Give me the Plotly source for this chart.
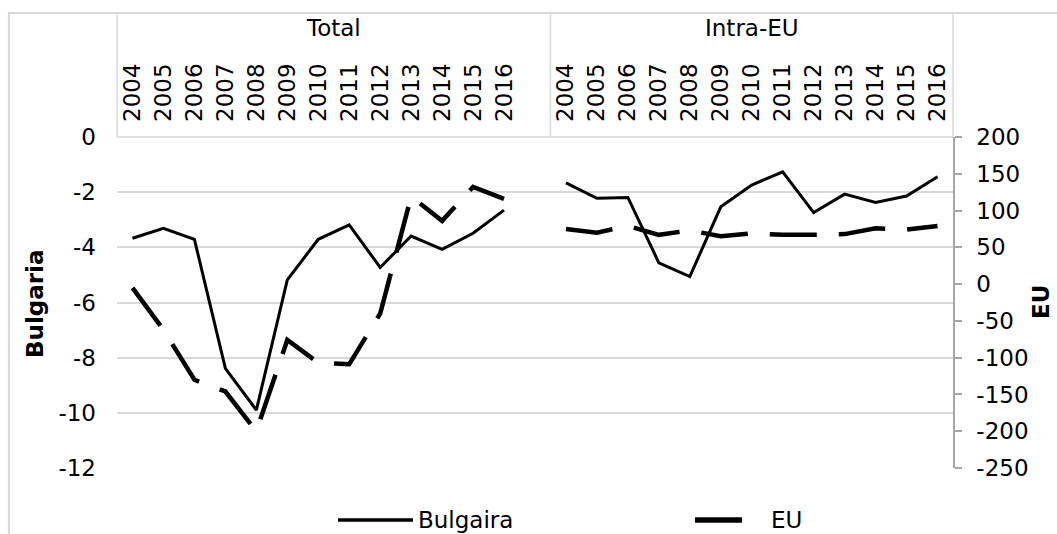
import plotly.graph_objects as go

# ---- data ----
years = ["2004", "2005", "2006", "2007", "2008", "2009", "2010",
         "2011", "2012", "2013", "2014", "2015", "2016"]
groups = ["Total", "Intra-EU"]
bulgaria_total = [-3.67, -3.31, -3.71, -8.39, -9.90, -5.18, -3.71, -3.19, -4.73, -3.59, -4.07, -3.49, -2.65]
bulgaria_intra = [-1.66, -2.22, -2.19, -4.56, -5.06, -2.53, -1.74, -1.26, -2.74, -2.07, -2.37, -2.14, -1.44]
eu_total = [-5, -62, -130, -146, -200, -76, -107, -109, -40, 119, 86, 132, 116]
eu_intra = [75, 70, 79, 67, 73, 65, 69, 67, 67, 68, 76, 74, 79]
series_names = ["Bulgaira", "EU"]
left_title = "Bulgaria"
right_title = "EU"
left_ticks = [0, -2, -4, -6, -8, -10, -12]
right_ticks = [200, 150, 100, 50, 0, -50, -100, -150, -200, -250]

# category slots: 13 Total + 1 empty slot + 13 Intra-EU
n = len(years)
x_total = list(range(n))
x_intra = list(range(n + 1, 2 * n + 1))
x_all = x_total + [n] + x_intra
tick_text = years + [""] + years

bg_y = bulgaria_total + [None] + bulgaria_intra
eu_y = eu_total + [None] + eu_intra

W, H = 1057, 534
L, R, T, B = 117, 953, 137, 468
FONT = "DejaVu Sans"
FS = 23
GRID = "#d9d9d9"

def px(xp):
    return (xp - L) / (R - L)

def py(yp):
    return (B - yp) / (B - T)

fig = go.Figure()
fig.add_trace(go.Scatter(
    x=x_all, y=bg_y, name=series_names[0], mode="lines",
    line=dict(color="black", width=3), connectgaps=False,
    showlegend=False, yaxis="y"))
fig.add_trace(go.Scatter(
    x=x_all, y=eu_y, name=series_names[1], mode="lines",
    line=dict(color="black", width=4.5, dash="47px,22px"), connectgaps=False,
    showlegend=False, yaxis="y2"))

shapes = []
# outer chart border
shapes.append(dict(type="rect", xref="paper", yref="paper",
                   x0=px(9), x1=px(1065), y0=py(545), y1=py(13),
                   line=dict(color=GRID, width=2.2), layer="below"))
# category header box
shapes.append(dict(type="line", xref="paper", yref="paper",
                   x0=0, x1=1, y0=1, y1=1, line=dict(color=GRID, width=1.5)))
for xv in (0, 1):
    shapes.append(dict(type="line", xref="paper", yref="paper",
                       x0=xv, x1=xv, y0=1, y1=py(13), line=dict(color=GRID, width=1.5)))
shapes.append(dict(type="line", xref="x", yref="paper",
                   x0=n + 0.5, x1=n + 0.5, y0=1, y1=py(13), line=dict(color=GRID, width=1.5)))
# legend samples
leg_y = py(520)
shapes.append(dict(type="line", xref="paper", yref="paper",
                   x0=px(338), x1=px(413), y0=leg_y, y1=leg_y,
                   line=dict(color="black", width=3.5)))
shapes.append(dict(type="line", xref="paper", yref="paper",
                   x0=px(695), x1=px(742), y0=leg_y, y1=leg_y,
                   line=dict(color="black", width=5.5)))

annotations = []
annotations.append(dict(text=groups[0], xref="paper", yref="paper",
                        x=px(550.5) / 2, y=py(28), showarrow=False,
                        xanchor="center", yanchor="middle",
                        font=dict(family=FONT, size=FS, color="black")))
annotations.append(dict(text=groups[1], xref="paper", yref="paper",
                        x=(px(550.5) + 1) / 2, y=py(28), showarrow=False,
                        xanchor="center", yanchor="middle",
                        font=dict(family=FONT, size=FS, color="black")))
annotations.append(dict(text="<b>" + left_title + "</b>", xref="paper", yref="paper",
                        x=px(35), y=py(304), textangle=-90, showarrow=False,
                        xanchor="center", yanchor="middle",
                        font=dict(family=FONT, size=FS, color="black")))
annotations.append(dict(text="<b>" + right_title + "</b>", xref="paper", yref="paper",
                        x=px(1041), y=py(302), textangle=-90, showarrow=False,
                        xanchor="center", yanchor="middle",
                        font=dict(family=FONT, size=FS, color="black")))
annotations.append(dict(text=series_names[0], xref="paper", yref="paper",
                        x=px(416), y=leg_y, showarrow=False,
                        xanchor="left", yanchor="middle",
                        font=dict(family=FONT, size=FS, color="black")))
annotations.append(dict(text=series_names[1], xref="paper", yref="paper",
                        x=px(769), y=leg_y, showarrow=False,
                        xanchor="left", yanchor="middle",
                        font=dict(family=FONT, size=FS, color="black")))

fig.update_layout(
    width=W, height=H,
    margin=dict(l=L, r=W - R, t=T, b=H - B, pad=0),
    paper_bgcolor="white", plot_bgcolor="white",
    font=dict(family=FONT, size=FS, color="black"),
    showlegend=False,
    xaxis=dict(range=[-0.5, 2 * n + 0.5], tickvals=x_all, ticktext=tick_text,
               side="top", tickangle=-90, showgrid=False, zeroline=False,
               showline=False, ticks="", ticklabelstandoff=14,
               tickfont=dict(family=FONT, size=FS, color="black")),
    yaxis=dict(range=[-12, 0], tickvals=left_ticks,
               ticktext=[str(v) for v in left_ticks],
               showgrid=True, gridcolor=GRID,
               gridwidth=1.8, zeroline=False, showline=False, ticks="",
               ticklabelstandoff=20,
               tickfont=dict(family=FONT, size=FS, color="black")),
    yaxis2=dict(range=[-250, 200], tickvals=right_ticks,
                ticktext=[str(v) for v in right_ticks],
                overlaying="y", side="right",
                showgrid=False, zeroline=False, showline=True, linecolor="#a6a6a6",
                linewidth=1.5, ticks="outside", ticklen=7, tickcolor="#a6a6a6",
                tickwidth=1.5, ticklabelstandoff=10,
                tickfont=dict(family=FONT, size=FS, color="black")),
    shapes=shapes,
    annotations=annotations,
)

fig.write_html("out.html", config={"displayModeBar": False},
               post_script="document.body.style.margin='0';document.body.style.padding='0';")
